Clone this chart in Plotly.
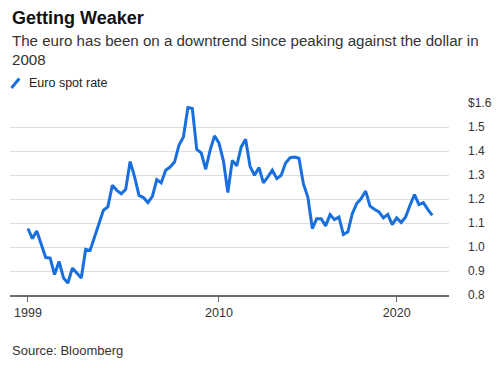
import pandas as pd
import plotly.graph_objects as go

# Quarterly euro spot rate (USD per EUR), starting 1999 Q1
euro_rate = [
    1.077, 1.035, 1.067, 1.007, 0.956, 0.954, 0.885, 0.940, 0.871, 0.850,
    0.912, 0.892, 0.871, 0.990, 0.986, 1.042, 1.095, 1.153, 1.167, 1.257,
    1.236, 1.222, 1.240, 1.356, 1.292, 1.215, 1.206, 1.185, 1.211, 1.281,
    1.267, 1.320, 1.333, 1.354, 1.424, 1.458, 1.581, 1.577, 1.406, 1.392,
    1.324, 1.403, 1.463, 1.433, 1.358, 1.227, 1.361, 1.338, 1.417, 1.449,
    1.336, 1.299, 1.331, 1.267, 1.292, 1.320, 1.285, 1.299, 1.350, 1.372,
    1.375, 1.370, 1.264, 1.208, 1.077, 1.118, 1.118, 1.088, 1.135, 1.114,
    1.125, 1.052, 1.063, 1.139, 1.181, 1.202, 1.233, 1.170, 1.157, 1.146,
    1.121, 1.136, 1.093, 1.121, 1.102, 1.125, 1.174, 1.218, 1.177, 1.185,
    1.157, 1.132,
]
dates = pd.date_range("1999-01-01", periods=len(euro_rate), freq="QS")

x_tick_vals = ["1999-01-01", "2009-10-01", "2019-10-01"]
x_tick_text = ["1999", "2010", "2020"]
y_tick_vals = [0.8, 0.9, 1.0, 1.1, 1.2, 1.3, 1.4, 1.5, 1.6]
y_tick_text = ["0.8", "0.9", "1.0", "1.1", "1.2", "1.3", "1.4", "1.5", "$1.6"]

BLUE = "#1a6fdf"
FONT = "Liberation Sans, Arial, sans-serif"

W, H = 502, 368
L, R, T, B = 10, 45, 103, 73
pw, ph = W - L - R, H - T - B


def px(x):
    return (x - L) / pw


def py(y):
    return (H - B - y) / ph


fig = go.Figure()
fig.add_trace(go.Scatter(
    x=dates, y=euro_rate, mode="lines",
    line=dict(color=BLUE, width=3), showlegend=False,
    hoverinfo="skip",
))

annotations = [
    dict(text="<b>Getting Weaker</b>", x=px(10), y=py(18), font=dict(size=18, color="#111111")),
    dict(text="The euro has been on a downtrend since peaking against the dollar in",
         x=px(10), y=py(40), font=dict(size=15.1, color="#333333")),
    dict(text="2008", x=px(10), y=py(59.5), font=dict(size=15.1, color="#333333")),
    dict(text="Euro spot rate", x=px(27.5), y=py(83), font=dict(size=12.5, color="#222222")),
    dict(text="Source: Bloomberg", x=px(10), y=py(350), font=dict(size=13, color="#333333")),
]
for a in annotations:
    a.update(xref="paper", yref="paper", xanchor="left", yanchor="middle",
             showarrow=False)
    a["font"]["family"] = FONT

fig.update_layout(
    width=W, height=H,
    margin=dict(l=L, r=R, t=T, b=B),
    paper_bgcolor="white", plot_bgcolor="white",
    font=dict(family=FONT, color="#333333"),
    annotations=annotations,
    shapes=[dict(type="line", xref="paper", yref="paper",
                 x0=px(11.5), y0=py(88), x1=px(19.5), y1=py(78.5),
                 line=dict(color=BLUE, width=3))],
    xaxis=dict(
        type="date", range=["1997-12-28", "2022-09-10"],
        tickvals=x_tick_vals, ticktext=x_tick_text,
        showgrid=False, zeroline=False,
        showline=True, linecolor="#6b6b6b", linewidth=2,
        ticks="outside", ticklen=5, tickwidth=1, tickcolor="#6b6b6b",
        tickfont=dict(size=12.5, color="#333333"),
        fixedrange=True,
    ),
    yaxis=dict(
        side="right", range=[0.8, 1.6],
        tickvals=y_tick_vals, ticktext=y_tick_text,
        showgrid=True, gridcolor="#dedede", gridwidth=1,
        zeroline=False, showline=False, ticks="",
        ticklabelstandoff=18,
        tickfont=dict(size=12, color="#333333"),
        fixedrange=True,
    ),
)

fig.write_html(
    "out.html",
    config={"displayModeBar": False},
    post_script="document.body.style.margin='0';document.body.style.overflow='hidden';",
)
